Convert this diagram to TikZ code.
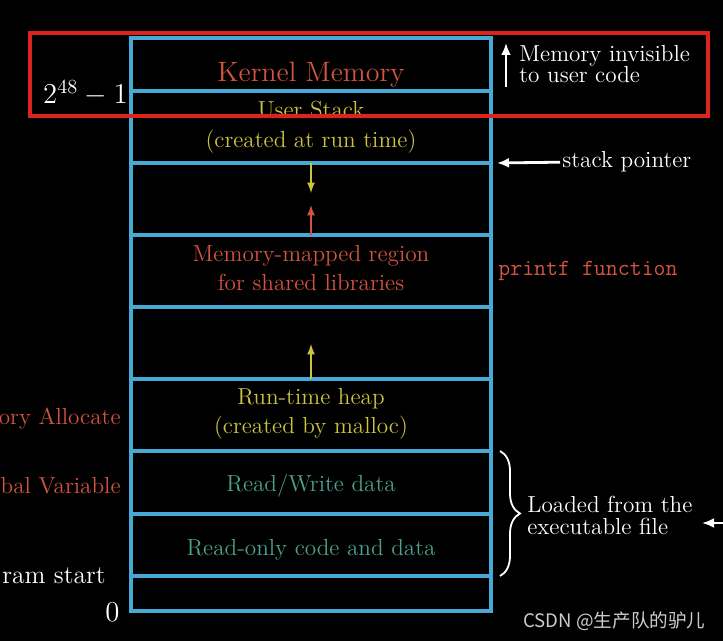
\documentclass[tikz,border=0pt]{standalone}
\usepackage{fontspec}
\newfontfamily\cjkfont{Noto Sans CJK SC}
\usetikzlibrary{positioning}
\usetikzlibrary{arrows.meta}
\usetikzlibrary{decorations.pathreplacing}
\definecolor{cellblue}{RGB}{72,168,214}
\definecolor{segred}{RGB}{212,84,64}
\definecolor{segyellow}{RGB}{204,196,64}
\definecolor{segteal}{RGB}{76,160,140}
\definecolor{markred}{RGB}{222,34,30}
\newcommand{\segfont}{\fontsize{11.6}{14.5}\selectfont}
\newcommand{\notefont}{\fontsize{11.6}{10.8}\selectfont}
\newcommand{\addrfont}{\fontsize{14.4}{17}\selectfont}

\begin{document}
\begin{tikzpicture}[x=0.5pt, y=-0.5pt, >=latex,
    cell/.style={draw=cellblue, line width=1.6pt, minimum width=180pt, inner sep=0pt, outer sep=0pt},
    lbl/.style={font=\segfont, align=center, inner sep=0pt},
    side/.style={font=\segfont, inner sep=0pt, anchor=base east},
    note/.style={font=\notefont, text=white, align=left, inner sep=0pt},
    pointer/.style={-{Latex[length=6pt,width=5pt]}, white, line width=1.4pt}]
    \useasboundingbox (0,0) rectangle (723,641);
    \clip (0,0) rectangle (723,641);
    \fill[black] (0,0) rectangle (723,641);
    % address space, top to bottom
    \node[cell, minimum height=26.5pt, anchor=north] (kernel) at (311,38) {};
    \node[cell, minimum height=36pt, below=0pt of kernel] (stack) {};
    \node[cell, minimum height=36pt, below=0pt of stack] (gapa) {};
    \node[cell, minimum height=36pt, below=0pt of gapa] (mmap) {};
    \node[cell, minimum height=36pt, below=0pt of mmap] (gapb) {};
    \node[cell, minimum height=36pt, below=0pt of gapb] (heap) {};
    \node[cell, minimum height=31.5pt, below=0pt of heap] (rw) {};
    \node[cell, minimum height=31pt, below=0pt of rw] (ro) {};
    \node[cell, minimum height=17.5pt, below=0pt of ro] (base) {};
    % segment names
    \node[lbl, font=\fontsize{14}{17}\selectfont, text=segred, anchor=base] (kernellbl) at (311,81.5) {Kernel Memory};
    \node[lbl, text=segyellow] (stacklbl) at (311,127) {User Stack\\[0.5pt](created at run time)};
    \node[lbl, text=segred] (mmaplbl) at (311,268) {Memory-mapped region\\for shared libraries};
    \node[lbl, text=segyellow] (heaplbl) at (311,414) {Run-time heap\\(created by malloc)};
    \node[lbl, text=segteal, anchor=base] (rwlbl) at (311,491.5) {Read/Write data};
    \node[lbl, text=segteal, anchor=base] (rolbl) at (311,555) {Read-only code and data};
    % growth arrows
    \coordinate (stackend) at (311,193);
    \coordinate (mmapend) at (311,205);
    \coordinate (heapend) at (311,344);
    \draw[->, segyellow, line width=0.8pt] (stack.south) -- (stackend);
    \draw[->, segred, line width=0.8pt] (mmap.north) -- (mmapend);
    \draw[->, segyellow, line width=0.8pt] (heap.north) -- (heapend);
    % left side
    \node[side, font=\addrfont, text=white] (topaddr) at (128,103.5) {$2^{48}-1$};
    \node[side, text=segred] (alloc) at (121,425) {ory Allocate};
    \node[side, text=segred] (global) at (121,494) {bal Variable};
    \node[side, font=\fontsize{12.8}{15}\selectfont, text=white] (start) at (106,583) {ram start};
    \node[side, font=\addrfont, text=white] (zero) at (120,621) {0};
    % right side
    \node[note, anchor=north west] (invis) at (519,44.6) {Memory invisible\\to user code};
    \coordinate (invisfoot) at (506,87);
    \coordinate (invistip) at (506,43);
    \draw[pointer, line width=1.2pt] (invisfoot) -- (invistip);
    \node[note, font=\segfont, anchor=base west] (sp) at (562,168) {stack pointer};
    \draw[pointer] ([xshift=-1pt]sp.west) -- ([xshift=3pt]stack.south east);
    \node[note, font=\ttfamily\segfont, text=segred, anchor=base west] (printf) at (498,276) {printf function};
    \draw[decorate, decoration={brace, amplitude=10pt}, white, line width=0.9pt]
        ([xshift=4.5pt]rw.north east) -- ([xshift=4.5pt]ro.south east);
    \node[note, anchor=north west] (loaded) at (527,496) {Loaded from the\\executable file};
    \coordinate (exeout) at (735,523);
    \coordinate (exetip) at (702,523);
    \draw[pointer] (exeout) -- (exetip);
    % highlight
    \draw[markred, line width=1.6pt] (30,33) rectangle (708,116);
    \node[anchor=base west, inner sep=0pt, text=white!80!black, font=\cjkfont\fontsize{9.3}{11}\selectfont] (mark) at (523,627) {CSDN @生产队的驴儿};
\end{tikzpicture}
\end{document}
